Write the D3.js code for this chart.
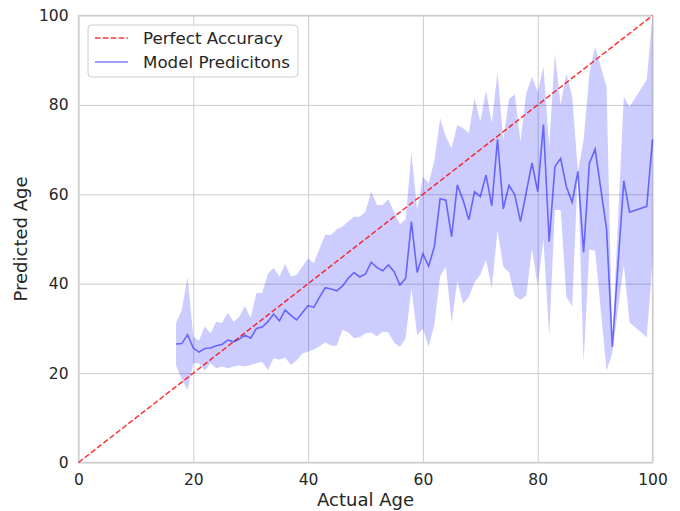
<!DOCTYPE html>
<html>
<head>
<meta charset="utf-8">
<script src="https://cdn.jsdelivr.net/npm/d3@7"></script>
<style>
	body { margin: 0; background: #fff; }
	text { font-family: "DejaVu Sans", sans-serif; fill: #262626; }
</style>
</head>
<body>
<div id="chart"></div>
<script>
// actual ages that have predictions (91, 94, 97, 98 have none)
var ages = [17, 18, 19, 20, 21, 22, 23, 24, 25, 26, 27, 28, 29, 30, 31, 32, 33, 34, 35, 36,
	37, 38, 39, 40, 41, 42, 43, 44, 45, 46, 47, 48, 49, 50, 51, 52, 53, 54, 55, 56,
	57, 58, 59, 60, 61, 62, 63, 64, 65, 66, 67, 68, 69, 70, 71, 72, 73, 74, 75, 76,
	77, 78, 79, 80, 81, 82, 83, 84, 85, 86, 87, 88, 89, 90, 92, 93, 95, 96, 99, 100];

var predicted = [26.5, 26.6, 28.6, 25.6, 24.7, 25.5, 25.6, 26.1, 26.4, 27.4, 27.0, 27.6, 28.5, 27.8, 30.0, 30.3, 31.5, 33.2, 31.7, 34.1,
	32.9, 31.9, 33.5, 35.1, 34.7, 37.0, 39.1, 38.8, 38.4, 39.5, 41.2, 42.5, 41.5, 42.2, 44.8, 43.6, 42.9, 44.2, 42.7, 39.7,
	41.2, 53.9, 42.5, 46.7, 43.9, 48.3, 59.0, 58.7, 50.5, 62.1, 58.7, 54.3, 60.6, 59.5, 64.3, 57.4, 72.3, 56.7, 62.0, 59.9,
	53.9, 60.4, 67.0, 60.6, 75.6, 49.4, 66.2, 68.0, 61.7, 58.2, 65.1, 47.0, 66.9, 70.1, 52.2, 25.9, 63.0, 56.0, 57.3, 72.3];

var upper = [31.2, 34.1, 41.5, 28.2, 27.3, 30.4, 28.9, 31.5, 31.2, 33.5, 31.5, 32.6, 35.0, 32.3, 38.0, 37.9, 42.3, 43.5, 41.6, 44.4,
	41.6, 42.0, 43.8, 45.7, 44.6, 47.9, 51.0, 50.9, 52.2, 52.8, 53.9, 55.0, 55.0, 56.1, 60.6, 57.6, 57.6, 58.9, 56.0, 53.3,
	54.5, 69.4, 56.5, 64.0, 62.5, 67.5, 77.0, 72.9, 70.3, 75.5, 74.8, 73.7, 81.5, 76.3, 83.2, 75.9, 87.4, 72.1, 81.3, 82.4,
	71.8, 82.6, 86.3, 82.9, 88.6, 70.7, 91.5, 80.0, 87.1, 82.0, 65.1, 72.1, 87.0, 93.0, 84.0, 27.0, 81.8, 79.6, 85.6, 100.0];

var lower = [21.7, 18.5, 16.2, 22.2, 22.2, 20.5, 22.2, 21.1, 21.5, 21.1, 21.5, 21.7, 21.5, 21.8, 22.2, 22.5, 20.7, 23.3, 23.0, 23.5,
	21.8, 22.8, 24.4, 24.8, 25.3, 26.0, 26.9, 26.1, 26.1, 29.7, 29.1, 27.8, 28.0, 28.9, 29.1, 28.2, 29.3, 29.1, 26.8, 25.9,
	27.8, 39.0, 28.5, 30.0, 25.9, 30.8, 41.6, 43.8, 31.3, 40.6, 35.5, 37.0, 40.3, 42.0, 45.3, 39.0, 52.0, 43.8, 42.5, 37.3,
	36.4, 37.3, 47.9, 39.4, 50.0, 28.2, 56.5, 56.5, 37.1, 34.9, 65.1, 22.2, 47.7, 47.3, 20.5, 24.5, 44.3, 31.3, 28.0, 45.0];

var perfect = [0, 100];
var xTicks = [0, 20, 40, 60, 80, 100];
var yTicks = [0, 20, 40, 60, 80, 100];
var legendLabels = ["Perfect Accuracy", "Model Predicitons"];

function init() {
	var w = 680;
	var h = 511;
	var left = 78.5, right = 652.5, top = 15.5, bottom = 462.5;

	var svg = d3.select("#chart")
		.append("svg")
		.attr("width", w)
		.attr("height", h);

	var xScale = d3.scaleLinear().domain([0, 100]).range([left, right]);
	var yScale = d3.scaleLinear().domain([0, 100]).range([bottom, top]);

	var data = ages.map(function(a, i) {
		return { age: a, value: predicted[i], hi: upper[i], lo: lower[i] };
	});

	// grid + tick labels
	svg.append("g")
		.attr("transform", `translate(0,${bottom})`)
		.call(d3.axisBottom(xScale).tickValues(xTicks).tickSize(-(bottom - top)).tickPadding(11))
		.call(g => g.select(".domain").remove())
		.call(g => g.selectAll("line").attr("stroke", "#cccccc"))
		.call(g => g.selectAll("text").style("font-size", "15.5px").attr("fill", "#333"));

	svg.append("g")
		.attr("transform", `translate(${left},0)`)
		.call(d3.axisLeft(yScale).tickValues(yTicks).tickSize(-(right - left)).tickPadding(10))
		.call(g => g.select(".domain").remove())
		.call(g => g.selectAll("line").attr("stroke", "#cccccc"))
		.call(g => g.selectAll("text").style("font-size", "15.5px").attr("fill", "#333"));

	// frame
	svg.append("rect")
		.attr("x", left).attr("y", top)
		.attr("width", right - left).attr("height", bottom - top)
		.attr("fill", "none")
		.attr("stroke", "#cccccc")
		.attr("stroke-width", 1.3);

	// confidence band
	var area = d3.area()
		.x(d => xScale(d.age))
		.y0(d => yScale(d.lo))
		.y1(d => yScale(d.hi));

	svg.append("path")
		.datum(data)
		.attr("d", area)
		.attr("fill", "blue")
		.attr("fill-opacity", 0.2);

	// perfect accuracy
	svg.append("line")
		.attr("x1", xScale(perfect[0])).attr("y1", yScale(perfect[0]))
		.attr("x2", xScale(perfect[1])).attr("y2", yScale(perfect[1]))
		.attr("stroke", "red")
		.attr("stroke-opacity", 0.8)
		.attr("stroke-width", 1.5)
		.attr("stroke-dasharray", "5.5,2.4");

	// model predictions
	var line = d3.line()
		.x(d => xScale(d.age))
		.y(d => yScale(d.value));

	svg.append("path")
		.datum(data)
		.attr("d", line)
		.attr("fill", "none")
		.attr("stroke", "blue")
		.attr("stroke-opacity", 0.5)
		.attr("stroke-width", 1.6);

	// axis labels
	svg.append("text")
		.attr("x", (left + right) / 2)
		.attr("y", 506)
		.attr("text-anchor", "middle")
		.style("font-size", "18px")
		.attr("fill", "#333")
		.text("Actual Age");

	svg.append("text")
		.attr("transform", `translate(27,${(top + bottom) / 2}) rotate(-90)`)
		.attr("text-anchor", "middle")
		.style("font-size", "18px")
		.attr("fill", "#333")
		.text("Predicted Age");

	// legend
	var lg = svg.append("g").attr("transform", "translate(88,25)");
	lg.append("rect")
		.attr("width", 210).attr("height", 52)
		.attr("rx", 4)
		.attr("fill", "white").attr("fill-opacity", 0.8)
		.attr("stroke", "#cccccc");

	lg.append("line")
		.attr("x1", 7).attr("x2", 40).attr("y1", 13).attr("y2", 13)
		.attr("stroke", "red").attr("stroke-opacity", 0.8)
		.attr("stroke-width", 1.5).attr("stroke-dasharray", "5.5,2.4");
	lg.append("line")
		.attr("x1", 7).attr("x2", 40).attr("y1", 37).attr("y2", 37)
		.attr("stroke", "blue").attr("stroke-opacity", 0.5)
		.attr("stroke-width", 1.6);

	lg.selectAll("text.lbl")
		.data(legendLabels)
		.join("text")
		.attr("class", "lbl")
		.attr("x", 55)
		.attr("y", (d, i) => 13 + i * 24)
		.attr("dy", "0.35em")
		.style("font-size", "16.7px")
		.attr("fill", "#333")
		.text(d => d);
}

window.onload = init;
</script>
</body>
</html>
